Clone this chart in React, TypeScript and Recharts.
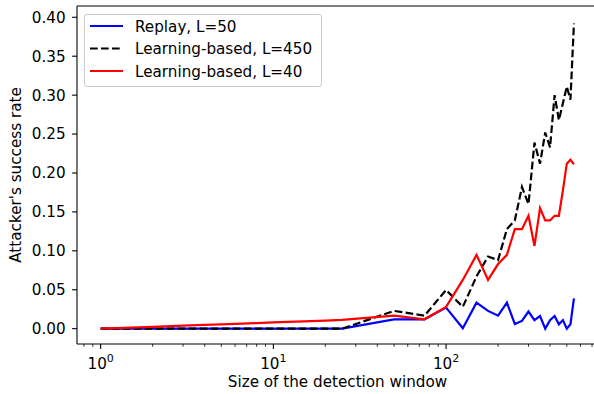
import React from 'react';
import { LineChart, Line, XAxis, YAxis, Legend, ReferenceLine, Label } from 'recharts';

// window sizes (x) and success rates
const windowSizes = [
  1, 2, 3, 4, 5, 6, 8, 10, 12, 15, 20, 25, 50, 75, 100, 125, 150, 175, 200, 225,
  250, 275, 300, 325, 350, 375, 400, 425, 450, 475, 500, 525, 550,
];
const replayL50 = [
  0, 0, 0, 0, 0, 0, 0, 0, 0, 0, 0, 0, 0.012, 0.012, 0.027, 0.0005, 0.0334, 0.0228, 0.0167, 0.0334,
  0.006, 0.0099, 0.022, 0.011, 0.0163, 0.0, 0.011, 0.0163, 0.0056, 0.011, 0.0, 0.0056, 0.039,
];
const learningL450 = [
  0, 0, 0, 0, 0, 0, 0, 0, 0, 0, 0, 0, 0.0228, 0.0167, 0.0497, 0.028, 0.067, 0.0926, 0.088, 0.128,
  0.139, 0.182, 0.16, 0.239, 0.212, 0.252, 0.233, 0.3, 0.268, 0.29, 0.311, 0.294, 0.392,
];
const learningL40 = [
  0, 0.0024, 0.0038, 0.0048, 0.0056, 0.0062, 0.0072, 0.008, 0.0086, 0.0094, 0.0104, 0.0112, 0.0167,
  0.012, 0.028, 0.0626, 0.0948, 0.0626, 0.083, 0.0948, 0.1278, 0.1278, 0.145, 0.1063, 0.1548, 0.139,
  0.139, 0.145, 0.145, 0.178, 0.212, 0.217, 0.211,
];

const seriesNames = ['Replay, L=50', 'Learning-based, L=450', 'Learning-based, L=40'];
const seriesColors = ['#0000ff', '#000000', '#ff0000'];
const seriesDash = [undefined, '7.7 3.3', undefined];

const yTicks = [0, 0.05, 0.1, 0.15, 0.2, 0.25, 0.3, 0.35, 0.4];
const xMajorTicks = [1, 10, 100];
const xMajorExponents = ['0', '1', '2'];
const xMinorTicks = [
  0.8, 0.9, 2, 3, 4, 5, 6, 7, 8, 9, 20, 30, 40, 50, 60, 70, 80, 90, 200, 300, 400, 500, 600, 700,
];
const xTicks = [...xMajorTicks, ...xMinorTicks].sort((a, b) => a - b);

const data = windowSizes.map((w, i) => ({
  w,
  replay: replayL50[i],
  lb450: learningL450[i],
  lb40: learningL40[i],
}));
const keys = ['replay', 'lb450', 'lb40'];

const FONT = 'DejaVu Sans';
const FS = 15.2;

const LogTick = (props: any) => {
  const { x, y, payload } = props;
  const idx = xMajorTicks.indexOf(payload.value);
  if (idx < 0) {
    return <line x1={x} x2={x} y1={y} y2={y + 2.8} stroke="#000" strokeWidth={0.8} />;
  }
  return (
    <g>
      <line x1={x} x2={x} y1={y} y2={y + 4.9} stroke="#000" strokeWidth={1.1} />
      <text x={x} y={y + 24.5} textAnchor="middle" fontFamily={FONT} fontSize={FS} fill="#000">
        10
        <tspan dy={-6.5} fontSize={11}>
          {xMajorExponents[idx]}
        </tspan>
      </text>
    </g>
  );
};

const LegendBox = () => (
  <div
    style={{
      width: 238,
      height: 73,
      boxSizing: 'border-box',
      border: '1px solid #cccccc',
      borderRadius: 3,
      background: 'rgba(255,255,255,0.8)',
    }}
  >
    <svg width={236} height={71} style={{ display: 'block' }}>
      {seriesNames.map((name, i) => (
        <g key={name}>
          <line
            x1={5}
            x2={38}
            y1={11 + i * 22.5}
            y2={11 + i * 22.5}
            stroke={seriesColors[i]}
            strokeWidth={2.2}
            strokeDasharray={seriesDash[i]}
          />
          <text x={50} y={16.5 + i * 22.5} fontFamily={FONT} fontSize={FS} fill="#000">
            {name}
          </text>
        </g>
      ))}
    </svg>
  </div>
);

export default function App() {
  return (
    <div
      style={{
        position: 'absolute',
        left: 0,
        top: 0,
        width: 594,
        height: 394,
        overflow: 'hidden',
        background: '#fff',
      }}
    >
      <LineChart width={598} height={394} data={data} margin={{ top: 6, right: 0, bottom: 0, left: 0 }}>
        <XAxis
          dataKey="w"
          type="number"
          scale="log"
          domain={[0.7294, 758]}
          allowDataOverflow
          ticks={xTicks}
          interval={0}
          tick={<LogTick />}
          tickLine={false}
          tickSize={0}
          tickMargin={0}
          height={50}
          axisLine={{ stroke: '#000', strokeWidth: 1.1 }}
        >
          <Label
            value="Size of the detection window"
            content={(p: any) => (
              <text
                x={p.viewBox.x + p.viewBox.width / 2}
                y={387}
                textAnchor="middle"
                fontFamily={FONT}
                fontSize={FS}
                fill="#000"
              >
                Size of the detection window
              </text>
            )}
          />
        </XAxis>
        <YAxis
          type="number"
          domain={[-0.0197, 0.4145]}
          allowDataOverflow
          ticks={yTicks}
          interval={0}
          width={77}
          tickFormatter={(v: number) => v.toFixed(2)}
          tick={{ fontFamily: FONT, fontSize: FS, fill: '#000' }}
          tickSize={4.9}
          tickMargin={6.5}
          tickLine={{ stroke: '#000', strokeWidth: 1.1 }}
          axisLine={{ stroke: '#000', strokeWidth: 1.1 }}
        >
          <Label
            value="Attacker's success rate"
            content={(p: any) => (
              <text
                transform={`translate(20.5, ${p.viewBox.y + p.viewBox.height / 2}) rotate(-90)`}
                textAnchor="middle"
                fontFamily={FONT}
                fontSize={FS}
                fill="#000"
              >
                Attacker's success rate
              </text>
            )}
          />
        </YAxis>
        <ReferenceLine y={0.4145} stroke="#000" strokeWidth={1.1} />
        {keys.map((k, i) => (
          <Line
            key={k}
            dataKey={k}
            name={seriesNames[i]}
            type="linear"
            stroke={seriesColors[i]}
            strokeWidth={2.2}
            strokeDasharray={seriesDash[i]}
            dot={false}
            activeDot={false}
            isAnimationActive={false}
          />
        ))}
        <Legend
          layout="vertical"
          align="center"
          verticalAlign="middle"
          content={<LegendBox />}
          wrapperStyle={{ position: 'absolute', left: 84, top: 14, width: 238, height: 73 }}
        />
      </LineChart>
    </div>
  );
}
